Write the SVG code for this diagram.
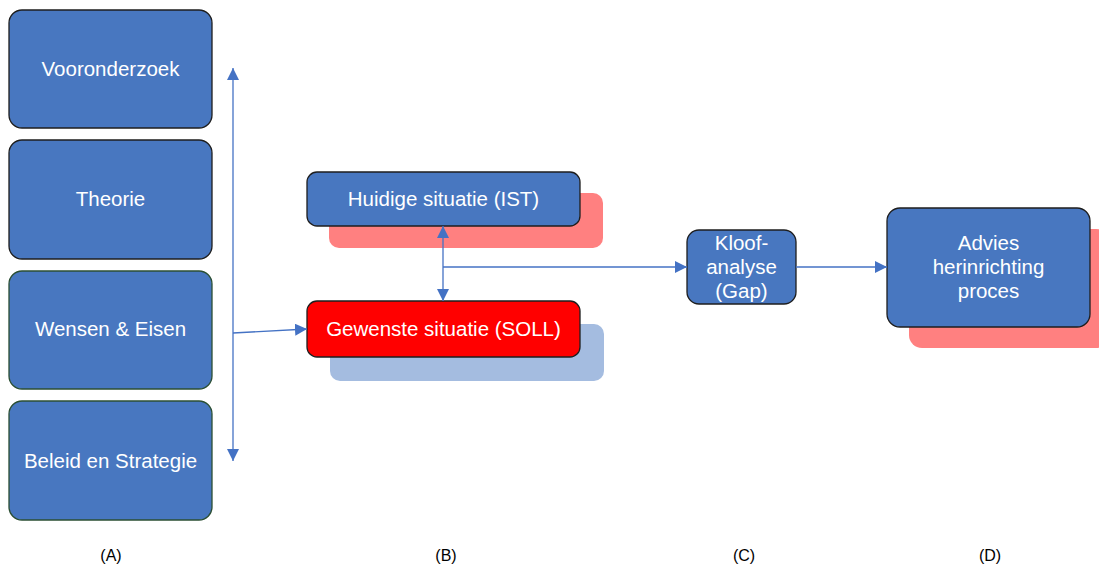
<svg xmlns="http://www.w3.org/2000/svg" width="1099" height="566" viewBox="0 0 1099 566">
<style>
.box{fill:#4877c0;stroke:#1e1e1e;stroke-width:1.3}
.boxg{fill:#4877c0;stroke:#2b4f33;stroke-width:1.3}
.red{fill:#ff0000;stroke:#1e1e1e;stroke-width:1.3}
.pink{fill:#ff8080}
.lblue{fill:#a4bce0}
.t{font-family:"Liberation Sans",Arial,sans-serif;font-size:20.5px;fill:#ffffff;text-anchor:middle}
.lab{font-family:"Liberation Sans",Arial,sans-serif;font-size:16px;fill:#000000;text-anchor:middle}
.c{stroke:#4472c4;stroke-width:1.3;fill:none}
</style>
<defs>
<marker id="ah" viewBox="0 0 12 12" refX="12" refY="6" markerWidth="12" markerHeight="12" markerUnits="userSpaceOnUse" orient="auto-start-reverse">
<path d="M0,0 L12,6 L0,12 z" fill="#4472c4"/>
</marker>
</defs>
<g id="vooronderzoek"><rect class="box" x="9" y="10" width="203" height="118" rx="13"/><text class="t" x="110.5" y="76">Vooronderzoek</text></g>
<g id="theorie"><rect class="box" x="9" y="140" width="203" height="119" rx="13"/><text class="t" x="110.5" y="206">Theorie</text></g>
<g id="wensen"><rect class="boxg" x="9" y="271" width="203" height="118" rx="13"/><text class="t" x="110.5" y="336">Wensen &amp; Eisen</text></g>
<g id="beleid"><rect class="boxg" x="9" y="401" width="203" height="119" rx="13"/><text class="t" x="110.5" y="468">Beleid en Strategie</text></g>
<g id="ist"><rect class="pink" x="329" y="193" width="274" height="55" rx="10"/><rect class="box" x="307" y="172" width="273" height="54" rx="10"/><text class="t" x="443.5" y="206">Huidige situatie (IST)</text></g>
<g id="soll"><rect class="lblue" x="330" y="324" width="274" height="57" rx="10"/><rect class="red" x="307" y="301" width="273" height="56" rx="10"/><text class="t" x="443.5" y="336">Gewenste situatie (SOLL)</text></g>
<g id="kloof"><rect class="box" x="687" y="230" width="109" height="74" rx="12"/><text class="t" x="741.5" y="250">Kloof-</text><text class="t" x="741.5" y="274">analyse</text><text class="t" x="741.5" y="298">(Gap)</text></g>
<g id="advies"><rect class="pink" x="909" y="229" width="200" height="119" rx="13"/><rect class="box" x="887" y="208" width="203" height="119" rx="13"/><text class="t" x="988.5" y="250">Advies</text><text class="t" x="988.5" y="274">herinrichting</text><text class="t" x="988.5" y="298">proces</text></g>
<g id="connectors">
<line class="c" x1="233" y1="68" x2="233" y2="461" marker-start="url(#ah)" marker-end="url(#ah)"/>
<line class="c" x1="233" y1="333" x2="307" y2="329" marker-end="url(#ah)"/>
<line class="c" x1="443" y1="226" x2="443" y2="301" marker-start="url(#ah)" marker-end="url(#ah)"/>
<line class="c" x1="443" y1="267" x2="687" y2="267" marker-end="url(#ah)"/>
<line class="c" x1="796" y1="267" x2="887" y2="267" marker-end="url(#ah)"/>
</g>
<g id="labels">
<text class="lab" x="111" y="561">(A)</text>
<text class="lab" x="446" y="561">(B)</text>
<text class="lab" x="744" y="561">(C)</text>
<text class="lab" x="990" y="561">(D)</text>
</g>
</svg>
